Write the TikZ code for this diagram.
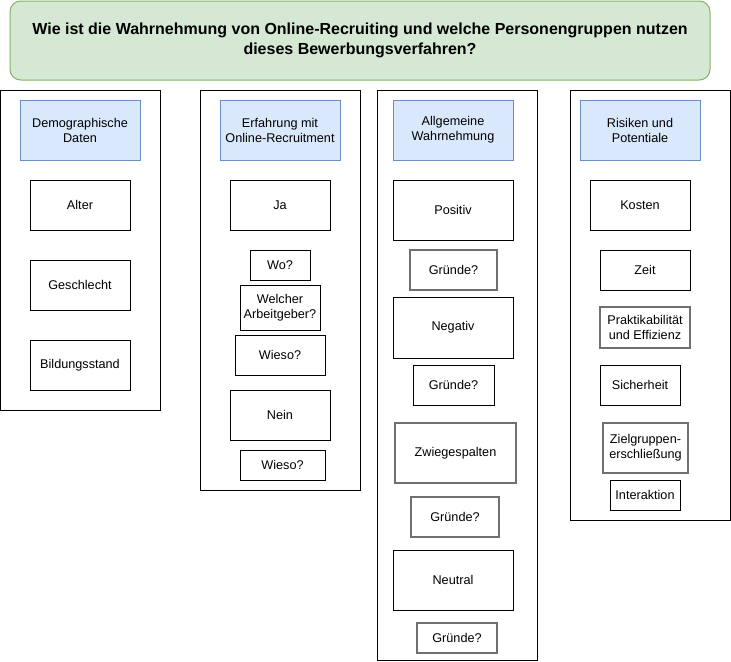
\documentclass[tikz,border=0pt]{standalone}
\usepackage{fontspec}
\setmainfont{Liberation Sans}
\definecolor{tgreen}{HTML}{D5E8D4}
\definecolor{tgreenb}{HTML}{82B366}
\definecolor{hblue}{HTML}{DAE8FC}
\definecolor{hblueb}{HTML}{6C8EBF}
\definecolor{gline}{HTML}{707070}
\begin{document}
\begin{tikzpicture}[x=0.75pt,y=-0.75pt,
 sz/.style 2 args={minimum width={#1*0.75pt}, minimum height={#2*0.75pt}},
 base/.style={rectangle, inner sep=0pt, align=center, font=\fontsize{9.5}{11.25}\selectfont, line width=0.75pt},
 colbox/.style={base, draw=black, fill=white},
 hdr/.style={base, draw=hblueb, fill=hblue},
 item/.style={base, draw=black, fill=white},
 gitem/.style={base, draw=gline, line width=1.2pt, fill=white},
 qbox/.style={base, draw=tgreenb, fill=tgreen, rounded corners=8pt, font=\bfseries\fontsize{12}{14.6}\selectfont}]
\useasboundingbox (0,0) rectangle (731,661);

% title
\node[qbox, sz={700}{79}] (q) at (360,40.5) {Wie ist die Wahrnehmung von Online-Recruiting und welche Personengruppen nutzen\\dieses Bewerbungsverfahren?};

% column frames
\node[colbox, sz={159.6}{320}] (c1) at (80.2,250) {};
\node[colbox, sz={160}{400}] (c2) at (280,290) {};
\node[colbox, sz={160}{570.5}] (c3) at (457,375.25) {};
\node[colbox, sz={160.5}{430}] (c4) at (650.25,305) {};

% column 1
\node[hdr, sz={120}{60}] (h1) at (80,130) {Demographische\\Daten};
\node[item, sz={100}{50}] (alter) at (80,205) {Alter};
\node[item, sz={100}{50}] (geschlecht) at (80,285) {Geschlecht};
\node[item, sz={100}{50}] (bildung) at (80,365) {Bildungsstand};

% column 2
\node[hdr, sz={120}{60}] (h2) at (280,130) {Erfahrung mit\\Online-Recruitment};
\node[item, sz={100}{50}] (ja) at (280,205) {Ja};
\node[item, sz={60}{30}] (wo) at (280,265) {Wo?};
\node[item, sz={80}{45}] (arbeitgeber) at (280,307.5) {Welcher\\Arbeitgeber?};
\node[item, sz={90}{40}] (wieso1) at (280,355) {Wieso?};
\node[item, sz={100}{50}] (nein) at (280,415) {Nein};
\node[item, sz={85}{30}] (wieso2) at (282.5,465) {Wieso?};

% column 3
\node[hdr, sz={120}{60}] (h3) at (453,130) {Allgemeine\\Wahrnehmung};
\node[item, sz={120}{60}] (positiv) at (453,210) {Positiv};
\node[gitem, sz={87}{40}] (gr1) at (453.5,270) {Gründe?};
\node[item, sz={120}{61}] (negativ) at (453,327.5) {Negativ};
\node[item, sz={81}{40}] (gr2) at (453.5,385) {Gründe?};
\node[gitem, sz={121}{60}] (zwie) at (455.5,453) {Zwiegespalten};
\node[gitem, sz={88}{40}] (gr3) at (455,517) {Gründe?};
\node[item, sz={120}{60}] (neutral) at (453,580) {Neutral};
\node[gitem, sz={80}{30}] (gr4) at (457,638) {Gründe?};

% column 4
\node[hdr, sz={120}{60}] (h4) at (640,130) {Risiken und\\Potentiale};
\node[item, sz={100}{50}] (kosten) at (640,205) {Kosten};
\node[item, sz={90}{40}] (zeit) at (645,270) {Zeit};
\node[gitem, sz={90}{41}] (prakt) at (645,327.5) {Praktikabilität\\und Effizienz};
\node[item, sz={80}{40}] (sicher) at (640,385) {Sicherheit};
\node[gitem, sz={85}{50}] (ziel) at (645.5,448) {Zielgruppen-\\erschließung};
\node[item, sz={70}{30}] (inter) at (645,495) {Interaktion};
\end{tikzpicture}
\end{document}
